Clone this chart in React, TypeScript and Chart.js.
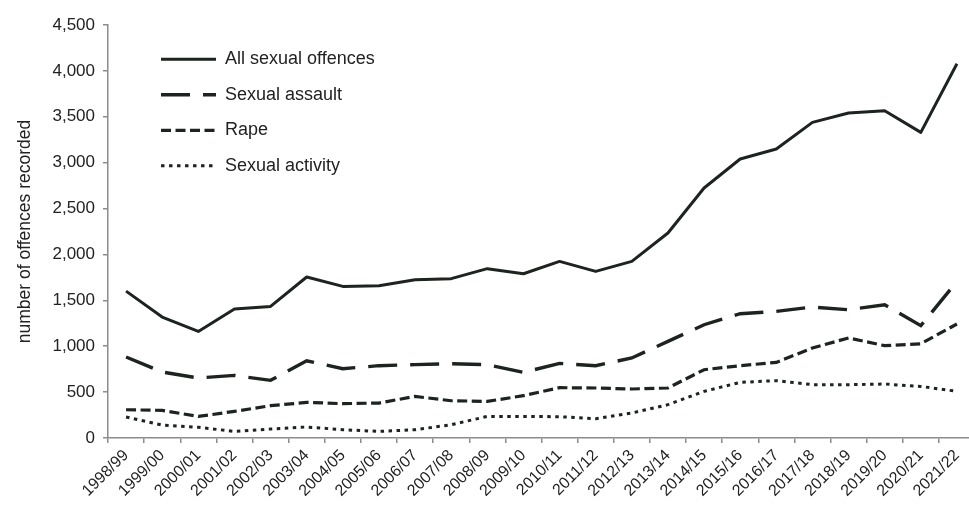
import React, { useEffect, useRef } from "react";
import { Chart, registerables } from "chart.js";

Chart.register(...registerables);

const categories = [
  "1998/99", "1999/00", "2000/01", "2001/02", "2002/03", "2003/04",
  "2004/05", "2005/06", "2006/07", "2007/08", "2008/09", "2009/10",
  "2010/11", "2011/12", "2012/13", "2013/14", "2014/15", "2015/16",
  "2016/17", "2017/18", "2018/19", "2019/20", "2020/21", "2021/22",
];

const allSexualOffences = [
  1600, 1318, 1161, 1405, 1434, 1754, 1652, 1659, 1725, 1736, 1845, 1790,
  1924, 1815, 1924, 2234, 2724, 3040, 3149, 3439, 3541, 3566, 3330, 4078,
];

const sexualAssault = [
  882, 719, 654, 682, 628, 842, 755, 788, 799, 810, 799, 715,
  813, 788, 872, 1053, 1234, 1354, 1380, 1427, 1398, 1452, 1224, 1706,
];

const rape = [
  308, 301, 235, 290, 352, 388, 374, 381, 453, 406, 399, 461,
  548, 545, 534, 545, 744, 788, 824, 981, 1090, 1006, 1027, 1242,
];

const sexualActivity = [
  229, 140, 116, 72, 98, 120, 90, 72, 90, 145, 235, 235,
  232, 210, 272, 363, 508, 606, 625, 581, 581, 588, 562, 508,
];

const yMin = 0;
const yMax = 4500;
const yStep = 500;

const LINE = "#1d231f";
const AXIS = "#8c8c8c";
const TEXT = "#222222";
const FONT = "'Liberation Sans', Arial, sans-serif";

export default function App() {
  const ref = useRef<HTMLCanvasElement | null>(null);

  useEffect(() => {
    if (!ref.current) return;
    const legendPlace = {
      id: "legendPlace",
      afterLayout(chart: any) {
        const lg = chart.legend;
        if (!lg) return;
        lg.left = chart.chartArea.left + 53 - 17.5;
        lg.top = 32.8;
        lg.right = lg.left + lg.width;
        lg.bottom = chart.chartArea.bottom;
      },
    };

    const mk = (label: string, data: number[], dash: number[], width: number) => ({
      label,
      data,
      borderColor: LINE,
      backgroundColor: LINE,
      borderWidth: width,
      borderDash: dash,
      borderCapStyle: "butt" as const,
      borderJoinStyle: (dash.length ? "miter" : "round") as any,
      pointRadius: 0,
      pointHoverRadius: 0,
      tension: 0,
      fill: false,
    });

    const chart = new Chart(ref.current, {
      type: "line",
      data: {
        labels: categories,
        datasets: [
          mk("All sexual offences", allSexualOffences, [], 3),
          mk("Sexual assault", sexualAssault, [29, 13], 3.4),
          mk("Rape", rape, [10, 4.5], 3.2),
          mk("Sexual activity", sexualActivity, [3.5, 4.5], 3),
        ],
      },
      options: {
        animation: false,
        responsive: true,
        maintainAspectRatio: false,
        layout: { padding: { left: 0, top: 25, right: 10, bottom: 0 } },
        plugins: {
          legend: {
            position: "chartArea" as any,
            align: "start",
            labels: {
              usePointStyle: true,
              pointStyle: "line",
              pointStyleWidth: 55,
              padding: 17.5,
              color: TEXT,
              font: { family: FONT, size: 18 },
              generateLabels(chart: any) {
                const items = (Chart.defaults.plugins.legend.labels as any).generateLabels(chart);
                items.forEach((it: any) => {
                  const ds = chart.data.datasets[it.datasetIndex];
                  it.lineDash = ds.borderDash;
                  it.lineWidth = ds.borderWidth;
                  it.lineCap = "butt";
                  it.pointStyle = "line";
                  it.strokeStyle = LINE;
                  it.fontColor = TEXT;
                });
                return items;
              },
            },
          },
          tooltip: { enabled: false },
        },
        scales: {
          x: {
            offset: true,
            grid: {
              display: true,
              offset: true,
              drawOnChartArea: false,
              drawTicks: true,
              tickLength: 5,
              color: AXIS,
              lineWidth: 1.5,
            },
            border: { display: true, color: AXIS, width: 1.5 },
            ticks: {
              autoSkip: false,
              maxRotation: 45,
              minRotation: 45,
              padding: 3,
              color: TEXT,
              font: { family: FONT, size: 16 },
            },
            afterFit(s: any) {
              s.height = 68;
            },
          },
          y: {
            min: yMin,
            max: yMax,
            grid: {
              display: true,
              drawOnChartArea: false,
              drawTicks: true,
              tickLength: 5,
              color: AXIS,
              lineWidth: 1.5,
            },
            border: { display: true, color: AXIS, width: 1.5 },
            ticks: {
              stepSize: yStep,
              padding: 8,
              color: TEXT,
              font: { family: FONT, size: 17 },
              callback: (v: any) => Number(v).toLocaleString("en-US"),
            },
            title: {
              display: true,
              text: "number of offences recorded",
              color: TEXT,
              font: { family: FONT, size: 17.5 },
              padding: { top: 15, bottom: 0 },
            },
            afterFit(s: any) {
              s.width = 108;
            },
          },
        },
      },
      plugins: [legendPlace],
    });
    return () => chart.destroy();
  }, []);

  return (
    <div
      style={{
        position: "fixed",
        left: 0,
        top: 0,
        width: 969,
        height: 506,
        overflow: "hidden",
        background: "#ffffff",
      }}
    >
      <div style={{ position: "relative", width: 985, height: 506 }}>
        <canvas ref={ref} />
      </div>
    </div>
  );
}
